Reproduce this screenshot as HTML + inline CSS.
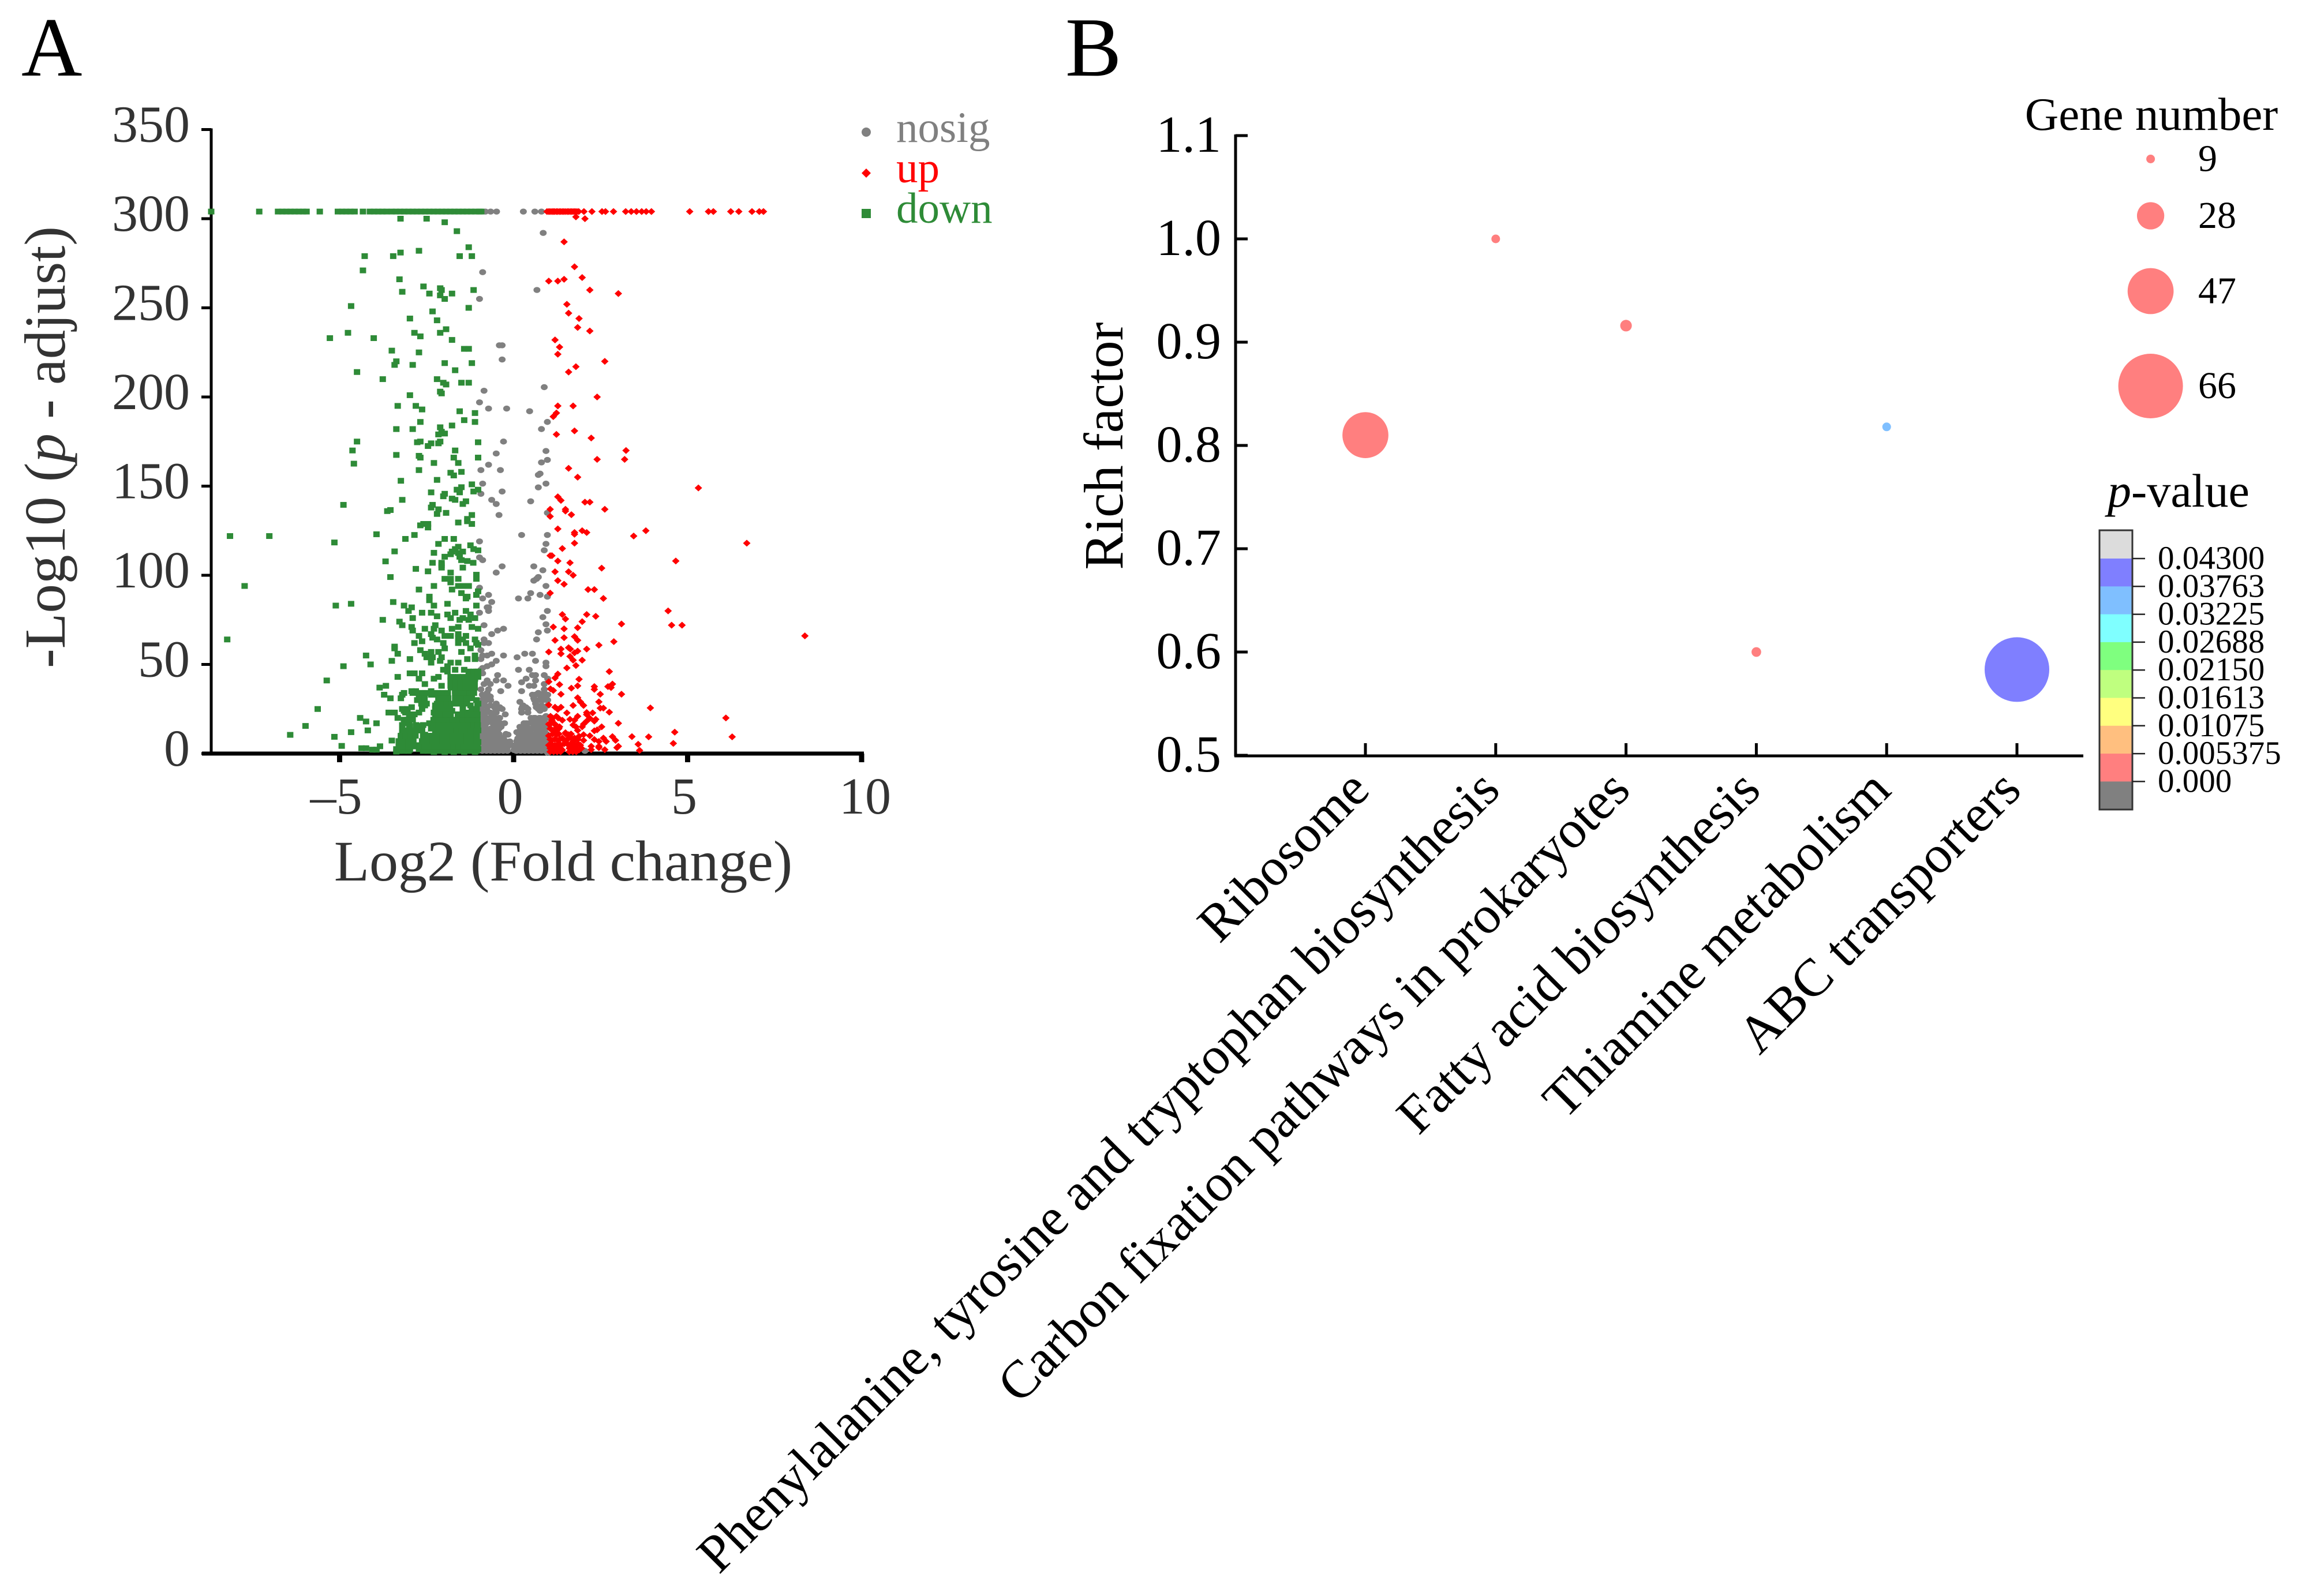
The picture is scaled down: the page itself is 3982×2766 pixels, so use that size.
<!DOCTYPE html>
<html lang="en">
<head>
<meta charset="utf-8">
<title>Volcano plot and KEGG enrichment bubble chart</title>
<style>
html,body{margin:0;padding:0;background:#fff;}
svg{display:block;font-family:"Liberation Serif",serif;}
</style>
</head>
<body>
<svg id="figure" xmlns="http://www.w3.org/2000/svg" width="3982" height="2766" viewBox="0 0 3982 2766">
<rect width="3982" height="2766" fill="#fff"/>
<text x="37" y="131" font-size="146" fill="#000">A</text>
<text x="1846" y="131" font-size="146" fill="#000">B</text>

<text transform="translate(112,775) rotate(-90)" text-anchor="middle" font-size="101" fill="#333">-Log10 (<tspan font-style="italic">p</tspan> - adjust)</text>
<text x="976" y="1526" text-anchor="middle" font-size="100" fill="#333">Log2 (Fold change)</text>

<text x="1553" y="246" font-size="75" fill="#808080">nosig</text>
<text x="1553" y="316" font-size="75" fill="#ff0000">up</text>
<text x="1553" y="386" font-size="75" fill="#2e8b37">down</text>
<ellipse cx="1501" cy="229" rx="8" ry="8" fill="#808080"/>
<polygon points="1501,292 1509,300 1501,308 1493,300" fill="#ff0000"/>
<rect x="1493" y="362" width="16" height="16" fill="#2e8b37"/>

<text transform="translate(1945,773) rotate(-90)" text-anchor="middle" font-size="96" fill="#000">Rich factor</text>

<text x="3728" y="225" text-anchor="middle" font-size="81" fill="#000">Gene number</text>
<text x="3775" y="878" text-anchor="middle" font-size="82" fill="#000"><tspan font-style="italic">p</tspan>-value</text>

<g id="volcano"></g>
<g id="bubble"></g>
<g id="sizeLegend"></g>
<g id="colorbar"></g>
</svg>

<script>
/* ---------- Panel A data: [log2 fold change, -log10 p-adjust] ---------- */
const volcanoXTicks = [-5, 0, 5, 10];
const volcanoXTickLabels = ["–5", "0", "5", "10"];
const volcanoYTicks = [0, 50, 100, 150, 200, 250, 300, 350];
const saturatedY = 304;

const downBandX = [-8.69,-7.31,-6.77,-6.65,-6.53,-6.41,-6.29,-6.17,-6.05,-5.95,-5.57,-5.05,-4.93,-4.81,-4.69,-4.57,-4.33,-4.13,-4.01,-3.89,-3.77,-3.65,-3.5,-3.38,-3.26,-3.14,-3.02,-2.9,-2.78,-2.66,-2.54,-2.42,-2.3,-2.18,-2.06,-1.94,-1.82,-1.7,-1.58,-1.46,-1.34,-1.22,-1.1,-0.98,-0.93];
const nosigBandX = [-0.81,-0.66,-0.49,0.28,0.61,0.8];
const upBandX = [0.96,1.01,1.05,1.1,1.14,1.18,1.23,1.27,1.32,1.36,1.41,1.45,1.5,1.55,1.59,1.64,1.68,1.73,1.77,1.82,1.87,2.02,2.25,2.54,2.64,2.87,3.22,3.38,3.53,3.68,3.81,3.96,5.06,5.6,5.74,6.24,6.47,6.85,7.06,7.18];

const downHigh = [[-3.25,300],[-2.5,300],[-1.98,298],[-1.63,293],[-1.29,284],[-2.72,282],[-3.25,281],[-3.46,279],[-4.28,279],[-1.55,279],[-1.2,279],[-4.33,271],[-3.28,266],[-2.59,262],[-2.11,261],[-2.07,260],[-3.2,259],[-2.42,258],[-2.11,257],[-1.98,255],[-1.77,258],[-1.15,260],[-4.67,251],[-1.29,250],[-2.33,248],[-2.98,244],[-2.2,243],[-1.94,238],[-2.11,236],[-2.85,236],[-4.76,236],[-2.68,234],[-5.28,233],[-4.02,233],[-1.77,232],[-1.42,227],[-1.29,227],[-3.5,226],[-2.72,225],[-3.37,220],[-3.42,218],[-2.9,218],[-1.98,219],[-1.2,219],[-1.68,215],[-4.5,214],[-3.76,210],[-2.2,210],[-2.02,208],[-1.94,207],[-1.5,208],[-1.29,208],[-2.11,203],[-2.07,202],[-2.98,201]];

const downMid = [[-3.33,195],[-2.81,195],[-2.63,193],[-1.55,192],[-1.11,191],[-1.42,187],[-1.11,186],[-2.68,186],[-2.11,183],[-1.77,184],[-3.37,182],[-2.9,182],[-2.07,180.5],[-1.98,179.5],[-2.16,179],[-4.5,175],[-2.68,175],[-2.77,174.6],[-2.11,175],[-2.16,174],[-2.37,174],[-2.46,172.5],[-1.02,174.6],[-4.63,170],[-1.68,170],[-3.37,167.5],[-2.72,167],[-2.68,166],[-1.72,166],[-1.02,166],[-1.59,163],[-2.29,163],[-4.59,162.6],[-2.72,159],[-1.81,157.5],[-1.72,156],[-1.5,158],[-3.24,153],[-2.2,153.5],[-1.2,151],[-1.5,149.4],[-1.63,148],[-1.55,146.5],[-1.15,147],[-1.02,148],[-2.37,146.5],[-1.98,145.7],[-2.02,144.3],[-1.77,143],[-1.68,142.3],[-3.2,142.3],[-1.37,141.5],[-1.46,140],[-2.33,139.5],[-2.37,138],[-2.16,137],[-4.89,139.5],[-3.54,136.6],[-3.63,136],[-1.94,135],[-2.2,134.4],[-1.2,133.8],[-1.33,131.6],[-1.33,130.3],[-1.59,129.6],[-1.2,128.8],[-2.46,128.8],[-2.59,128.8],[-2.68,128],[-2.46,126.8],[-3.94,123],[-2.85,122.6],[-3.11,120.4],[-5.15,118.4],[-1.98,120.4],[-1.72,120.4],[-2.16,117.6],[-1.24,116.8],[-1.59,116],[-1.68,114.7],[-1.77,113.3],[-1.46,113.3],[-1.59,112.5],[-1.15,114.7],[-1.02,114],[-2.29,112.6],[-3.42,113.4],[-1.81,111.8],[-1.98,110.4],[-1.55,110.4],[-1.5,108.5],[-1.33,108],[-3.68,107.8],[-1.16,107],[-2.33,107],[-2.07,107],[-2.07,105.7],[-2.07,104.3],[-1.46,104.3],[-2.81,103.6],[-2.46,102.2],[-1.81,101.5],[-1.07,100.3],[-3.54,99]];

const downLowUpper = [[-1.07,98],[-1.98,98],[-1.81,98],[-1.59,98],[-1.81,96],[-2.29,94],[-2.72,92],[-1.59,94],[-1.46,94],[-1.29,94],[-1.77,92],[-1.5,90],[-1.02,91],[-1.07,89],[-2.42,88],[-2.42,86],[-1.33,88],[-1.37,87],[-5.11,83],[-4.67,84],[-3.46,85],[-1.9,84],[-1.07,83],[-2.29,83],[-3.15,83],[-2.93,82],[-3.02,80],[-1.37,80],[-2.63,79],[-2.37,79],[-2.2,77],[-1.9,78],[-1.68,79],[-1.24,78],[-1.81,76],[-1.46,76],[-1.11,76],[-2.9,76],[-3.76,75],[-1.55,75],[-1.29,75],[-3.28,74],[-3.2,72],[-2.25,72],[-1.59,71],[-2.93,71],[-1.2,71],[-1.02,70],[-2.55,70],[-1.77,70],[-2.29,70],[-2.9,69],[-2.07,69],[-2.72,66],[-2.37,67],[-1.59,67],[-1.37,66],[-2.33,65],[-2.2,64],[-1.98,66],[-1.81,66],[-1.59,65],[-1.46,64],[-1.11,64],[-2.63,63],[-2.85,62],[-2.02,62],[-1.59,62],[-1.37,62],[-1.07,62],[-3.42,60],[-1.98,59],[-1.24,59],[-1.02,61],[-3.42,59],[-2.68,58],[-1.5,57],[-3.33,56],[-2.55,56],[-2.37,57],[-2.16,57],[-4.24,55],[-1.11,55],[-2.5,54],[-2.33,54],[-2.07,54],[-1.33,53],[-1.11,53],[-2.98,53],[-3.5,52],[-2.11,52],[-1.59,51],[-2.37,51],[-4.11,50],[-1.81,51],[-4.89,49],[-1.9,49],[-2.02,47],[-1.9,46],[-1.68,47],[-1.42,47],[-1.29,46],[-1.07,46],[-2.98,45],[-2.85,45],[-2.63,45],[-1.02,44],[-3.33,43],[-1.81,43],[-1.46,43],[-2.16,43],[-2.29,42],[-2.72,42],[-1.2,43],[-1.11,42],[-5.37,41],[-1.81,41],[-1.68,40],[-1.37,40],[-2.55,39],[-2.07,38],[-3.67,38],[-3.85,37],[-1.81,38],[-1.59,38],[-1.37,38]];

const downLowBase = [[-2.81,35],[-2.37,35],[-2.93,35],[-3.15,34],[-1.24,35],[-1.68,35],[-1.46,35],[-3.72,33],[-3.2,33],[-2.55,34],[-2.37,33],[-2.2,33],[-1.98,32],[-1.59,33],[-1.37,33],[-3.54,31],[-3.24,31],[-2.72,32],[-2.77,30],[-2.16,31],[-1.9,30],[-1.68,31],[-1.46,31],[-1.07,30],[-1.02,28],[-2.55,27],[-2.25,27],[-1.98,28],[-1.68,28],[-1.46,27],[-1.24,27],[-2.93,26],[-3.15,24],[-2.63,25],[-2.25,25],[-1.9,26],[-1.46,25],[-1.07,25],[-3.59,23],[-3.42,23],[-3.11,23],[-2.72,23],[-2.29,23],[-2.07,23],[-1.77,24],[-1.33,23],[-3.33,20],[-1.81,21],[-2.25,21],[-1.98,20],[-1.59,22],[-1.11,22],[-4.41,20],[-2.93,19],[-3.15,19],[-2.16,19],[-1.5,20],[-1.33,20],[-1.07,19],[-4.24,18],[-2.42,17],[-1.9,18],[-1.68,18],[-1.46,18],[-1.24,18],[-3.94,17],[-3.02,17],[-2.98,15.5],[-2.63,15.5],[-2.07,16],[-1.9,15.5],[-1.59,15],[-1.37,15],[-1.11,16],[-2.72,14],[-2.37,14],[-2.16,14],[-1.98,13],[-1.68,13],[-1.46,13],[-1.24,13],[-1.02,13],[-4.19,13],[-4.67,12],[-3.2,12],[-2.93,12],[-2.63,13],[-2.85,10.6],[-3.11,10],[-2.55,10.6],[-2.25,10.6],[-2.07,10.6],[-1.72,10.6],[-1.5,10.6],[-1.29,10.6],[-1.07,10.6],[-5.15,9.4],[-3.24,9],[-2.42,8.5],[-2.16,9],[-1.9,8.5],[-1.59,8.5],[-1.37,8.5],[-1.16,8.5],[-3.5,7.3],[-3.15,6.5],[-3.28,6.3],[-2.93,6.3],[-2.63,7],[-2.42,6],[-1.98,6.5],[-1.81,6.5],[-1.5,6.5],[-1.29,6.5],[-1.02,6.5],[-4.94,4.3],[-3.84,4.1],[-3.11,4.3],[-2.93,4.3],[-2.72,4.7],[-2.55,4.1],[-2.2,4.7],[-2.02,4.3],[-1.72,4.7],[-1.5,4.3],[-1.29,4.3],[-1.07,4.3],[-4.37,3],[-4.24,3],[-4.06,2.2],[-3.94,2.2],[-3.37,2.5],[-3.15,2.2],[-2.98,2.2],[-2.72,2.5],[-2.5,2.2],[-2.16,2.5],[-1.9,2.5],[-1.68,2.5],[-1.46,2.5],[-1.24,2.5],[-1.02,2.5],[-2.29,0.9],[-1.98,0.9],[-1.72,0.9],[-1.42,0.9],[-1.11,0.9],[-3.37,1.1],[-6.42,10.5],[-5.98,15.5],[-5.63,25],[-8.15,122],[-7.02,122],[-7.73,94],[-8.23,64]];

const downDenseBottom = [[-3.3,1.5],[-3.16,1.5],[-3.02,1.5],[-2.6,1.5],[-2.46,1.5],[-2.32,1.5],[-2.18,1.5],[-2.04,1.5],[-1.9,1.5],[-1.76,1.5],[-1.62,1.5],[-1.48,1.5],[-1.34,1.5],[-1.2,1.5],[-1.06,1.5],[-3.3,4],[-3.16,4],[-3.02,4],[-2.88,4],[-2.7,4],[-2.56,4],[-2.42,4],[-2.28,4],[-2.14,4],[-2,4],[-1.86,4],[-1.72,4],[-1.58,4],[-1.44,4],[-1.3,4],[-1.16,4],[-1.04,4],[-3.3,7],[-3.16,7],[-3.02,7],[-2.88,7],[-2.6,7],[-2.46,7],[-2.32,7],[-2.18,7],[-2.04,7],[-1.9,7],[-1.76,7],[-1.62,7],[-1.48,7],[-1.34,7],[-1.2,7],[-1.06,7],[-3.24,10],[-3.1,10],[-2.96,10],[-2.82,10],[-2.6,10],[-2.46,10],[-2.32,10],[-2.18,10],[-2.04,10],[-1.9,10],[-1.76,10],[-1.62,10],[-1.48,10],[-1.34,10],[-1.2,10],[-1.06,10],[-3.2,13],[-3.06,13],[-2.92,13],[-2.78,13],[-2.64,13],[-2.25,13],[-2.11,13],[-1.97,13],[-1.83,13],[-1.65,13],[-1.5,13],[-1.36,13],[-1.22,13],[-1.06,13],[-3.2,16],[-3.0,16],[-2.8,16],[-2.6,16],[-2.3,16],[-2.16,16],[-2.02,16],[-1.88,16],[-1.7,16],[-1.56,16],[-1.42,16],[-1.28,16],[-1.14,16],[-1.03,16],[-3.05,19],[-2.9,19],[-2.3,19],[-2.16,19],[-2.02,19],[-1.88,19],[-1.75,19],[-1.6,19],[-1.46,19],[-1.32,19],[-1.18,19],[-1.04,19]];

const downDenseUpper = [[-3.0,22],[-2.85,22],[-2.25,22],[-2.1,22],[-1.96,22],[-1.82,22],[-1.6,22],[-1.46,22],[-1.32,22],[-1.18,22],[-1.04,22],[-3.2,25],[-3.05,25],[-2.25,25],[-2.11,25],[-1.97,25],[-1.83,25],[-1.2,25],[-1.06,25],[-2.65,28],[-2.5,28],[-2.2,28],[-2.06,28],[-1.92,28],[-1.78,28],[-1.62,28],[-1.48,28],[-1.34,28],[-1.04,28],[-2.7,31],[-2.56,31],[-2.16,31],[-2.02,31],[-1.88,31],[-1.62,31],[-1.48,31],[-1.34,31],[-1.2,31],[-2.9,34],[-2.76,34],[-2.62,34],[-2.45,34],[-2.31,34],[-2.17,34],[-2.03,34],[-1.89,34],[-1.68,34],[-1.54,34],[-1.4,34],[-1.26,34],[-1.14,34],[-1.8,37],[-1.66,37],[-1.52,37],[-1.38,37],[-1.24,37],[-1.12,37],[-1.8,40],[-1.66,40],[-1.52,40],[-1.38,40],[-1.24,40],[-1.12,40],[-1.75,43],[-1.6,43],[-1.3,43],[-1.16,43],[-1.02,43],[-1.15,46],[-1.02,46]];

const nosigHigh = [[0.85,292],[-0.89,270],[0.67,260],[-0.98,255],[-0.41,229],[-0.33,229],[-0.33,221],[0.88,205.5],[-0.85,203.5],[-0.98,197],[-0.72,193.5],[-0.2,193.5],[0.46,192],[0.97,186],[0.8,182],[-0.29,175],[0.93,169.7],[-0.5,168.3],[0.97,164.7],[0.8,163.3],[-0.72,162],[-0.94,159],[-0.38,159],[0.76,157],[0.71,156.3],[-0.89,151.4],[0.93,151.4],[0.71,149.3],[-0.33,147],[-0.94,145.7],[-0.63,142.3],[-0.5,140],[0.49,141.5],[0.97,135],[-0.42,133.8],[0.23,122.6],[0.97,122.6],[-0.98,119],[0.93,117.6],[0.88,114],[-0.98,110],[-0.89,108.5],[-0.33,105],[0.58,105],[0.84,102.8],[-0.5,101.5],[0.71,99]];

const nosigLow = [[0.66,98],[0.58,97],[-0.98,93],[0.93,94],[-0.72,89],[-0.89,87],[-0.63,85],[0.49,90],[0.14,87],[0.41,87],[0.76,89],[0.97,88],[-0.72,82],[-0.76,82],[-0.72,80],[-0.98,79],[0.97,80],[0.84,76.5],[0.93,72.5],[-0.85,72],[-0.29,70],[-0.46,69],[0.71,68],[0.97,69],[-0.63,67],[0.66,64],[-0.85,64],[-0.85,62],[-0.72,62],[-0.94,58],[-0.63,56],[-0.29,55],[-0.76,55],[-0.89,55],[-0.94,53],[-0.5,52],[-0.63,50],[-0.76,49],[-0.89,48],[-0.94,47],[-0.89,45],[0.1,54],[0.32,56],[0.54,56],[0.63,52],[0.93,51],[0.93,49],[0.14,47],[0.45,47],[0.54,44],[0.63,44],[0.36,42],[0.63,41],[0.88,44],[0.98,42],[-0.46,44],[-0.29,41],[-0.5,41],[-0.76,41],[-0.85,39],[-0.67,39],[-0.16,38],[-0.37,35],[0.23,40],[0.45,38],[0.58,38],[0.23,35],[0.88,39],[0.88,36],[-0.94,36],[-0.72,36],[-0.76,34],[0.54,33],[0.71,34],[0.88,34],[0.98,33],[-0.85,32],[-0.67,32],[0.58,31],[0.8,31],[0.98,30],[-0.5,28],[-0.85,28],[-0.67,27],[0.18,29],[0.27,27],[0.63,28],[0.8,27],[0.98,27],[-0.46,25],[-0.33,25],[-0.94,25],[-0.76,24],[0.23,25],[0.41,25],[0.71,25],[0.88,25],[-0.24,22],[-0.5,23],[-0.67,23],[0.23,23],[0.41,23],[0.76,24],[-0.85,21],[-0.62,21],[-0.41,20],[0.58,20],[0.76,20],[0.93,21],[-0.89,18],[-0.67,19],[-0.46,18],[0.36,17],[0.54,18],[0.71,18],[0.88,18],[-0.26,17],[-0.85,15],[-0.56,16],[-0.36,15],[0.18,15],[0.36,15],[0.58,15],[0.8,16],[0.93,16],[-0.89,13],[-0.67,13],[-0.46,13],[0.09,12],[0.27,12],[0.45,12],[0.66,13],[0.84,12],[-0.16,10.6],[-0.89,10],[-0.67,10.6],[-0.46,10],[-0.29,9],[0.18,9],[0.36,9],[0.54,9],[0.71,9],[0.88,9],[-0.85,7],[-0.67,7],[-0.46,7],[-0.24,7],[-0.11,6.8],[0.09,7],[0.27,7],[0.45,7],[0.63,7],[0.84,7],[-0.89,4.5],[-0.72,4.5],[-0.55,4.5],[-0.37,4.5],[-0.2,4.5],[-0.02,4.5],[0.14,4.5],[0.32,4.5],[0.49,4.5],[0.67,4.5],[0.84,4.5],[-0.89,2],[-0.72,2],[-0.55,2],[-0.37,2],[-0.2,2],[0.01,2],[0.14,2],[0.32,2],[0.49,2],[0.67,2],[0.84,2],[2.05,1.5],[0.98,0.4]];

const nosigDense = [[-0.9,1.5],[-0.78,1.5],[-0.66,1.5],[-0.54,1.5],[-0.42,1.5],[-0.3,1.5],[-0.18,1.5],[0.08,1.5],[0.2,1.5],[0.32,1.5],[0.44,1.5],[0.56,1.5],[0.68,1.5],[0.8,1.5],[0.92,1.5],[-0.9,3.5],[-0.78,3.5],[-0.66,3.5],[-0.54,3.5],[-0.42,3.5],[-0.3,3.5],[-0.18,3.5],[0.08,3.5],[0.2,3.5],[0.32,3.5],[0.44,3.5],[0.56,3.5],[0.68,3.5],[0.8,3.5],[0.92,3.5],[-0.9,6],[-0.78,6],[-0.66,6],[-0.54,6],[-0.42,6],[-0.3,6],[-0.18,6],[0.12,6],[0.24,6],[0.36,6],[0.48,6],[0.6,6],[0.72,6],[0.84,6],[0.94,6],[-0.9,8.5],[-0.78,8.5],[-0.66,8.5],[-0.54,8.5],[-0.42,8.5],[-0.3,8.5],[0.12,8.5],[0.24,8.5],[0.36,8.5],[0.48,8.5],[0.6,8.5],[0.72,8.5],[0.84,8.5],[0.94,8.5],[-0.9,11],[-0.78,11],[-0.66,11],[-0.54,11],[-0.42,11],[-0.22,11],[0.15,11],[0.27,11],[0.39,11],[0.51,11],[0.63,11],[0.75,11],[0.87,11],[0.95,11],[-0.9,14],[-0.78,14],[-0.66,14],[-0.54,14],[-0.42,14],[0.2,14],[0.32,14],[0.44,14],[0.56,14],[0.68,14],[0.8,14],[0.92,14],[-0.9,17],[-0.78,17],[-0.6,17],[-0.5,17],[-0.38,17],[0.3,17],[0.42,17],[0.54,17],[0.66,17],[0.78,17],[0.9,17],[-0.9,20],[-0.78,20],[-0.66,20],[-0.54,20],[-0.4,20],[0.5,20],[0.62,20],[0.74,20],[0.86,20],[0.96,20],[-0.92,23],[-0.8,23],[-0.68,23],[-0.56,23],[-0.92,26],[-0.76,26],[-0.55,26],[-0.4,26],[0.25,26],[0.35,26],[0.65,26],[0.85,26],[-0.92,30],[-0.78,30],[-0.66,30],[0.6,30],[0.72,30],[0.85,30],[0.96,30],[-0.9,33],[-0.78,33],[0.62,33],[0.75,33],[0.9,33]];

const upHigh = [[1.79,301],[2.05,300],[1.45,287],[1.75,273],[1.97,267],[1.01,265],[1.27,265],[1.45,266],[2.19,260],[3.01,258],[1.53,252],[1.58,247],[1.88,244],[1.84,239],[2.19,237],[1.19,232],[1.32,228],[1.27,224],[2.62,220],[1.79,217],[1.58,214],[2.4,200],[1.27,195],[1.71,195],[1.23,191],[1.14,189],[1.75,181],[1.23,179],[2.23,177],[3.23,170],[2.4,165],[3.19,165],[1.58,160],[1.84,155],[1.27,144],[1.36,142],[2.05,141],[2.19,141],[1.05,137],[1.49,137],[2.62,137],[1.49,136],[1.66,134],[1.05,133],[1.27,126],[1.97,125],[2.1,124],[1.75,124],[1.75,123],[3.8,125],[3.45,122],[1.75,118],[1.4,115],[1.05,111],[1.1,111],[1.27,108],[1.62,107],[2.53,104],[1.19,102],[1.58,102],[1.71,100],[5.31,149],[6.7,118],[4.66,108]];

const upLow = [[1.27,97],[1.45,95],[2.14,92],[2.32,92],[1.05,90],[2.58,87],[1.4,78],[1.49,75.5],[2.1,78],[2.36,77],[1.97,74],[3.1,72.7],[1.14,71],[1.45,70],[1.84,70.6],[1.75,65.6],[1.84,63.5],[1.19,63.5],[1.45,65],[2.88,62.8],[2.45,60.8],[1.36,58.6],[1.58,59.4],[1.63,58.6],[2.1,58.6],[1.01,57],[1.36,56],[1.84,57.5],[1.75,56.5],[1.62,54.5],[1.71,52.4],[1.97,52.4],[1.79,49.4],[1.53,48],[2.75,46],[1.27,44.6],[1.19,42.4],[1.01,40.3],[1.88,41.7],[1.32,38.7],[1.84,38],[1.06,36.3],[1.14,35.4],[1.66,36.7],[2.32,37.6],[2.32,36],[2.84,39],[2.8,37],[2.71,37.6],[1.36,33.3],[2.49,33.3],[3.1,33.3],[1.84,31.3],[1.92,29],[2.45,29],[2.01,27],[1.01,27.3],[1.19,26],[1.36,26],[1.27,24.8],[1.71,27],[2.49,25.5],[2.58,25.5],[2.75,23.2],[1.53,22.8],[2.1,23],[2.27,22.8],[1.06,20.9],[1.23,20.9],[1.84,20.9],[2.1,21.9],[1.4,18.7],[1.62,19.2],[1.75,18.7],[2.19,19.8],[2.36,19.2],[1.1,18.7],[2.1,18.2],[2.01,16.5],[2.32,18.2],[3.01,17],[1.01,16.5],[1.19,16.5],[1.32,15],[1.71,16],[1.79,15],[1.97,15],[2.53,15],[1.1,13.3],[1.84,13],[2.4,13.3],[2.32,12.8],[1.19,12.2],[1.49,11.7],[1.01,10],[1.23,10.6],[1.58,10.6],[1.88,9.7],[2.01,10.6],[2.19,10],[1.4,8.7],[1.66,8.7],[1.75,8.7],[2.32,7.9],[2.58,8.7],[2.84,9.5],[3.4,9.5],[1.1,7.4],[1.27,7.4],[1.49,6.8],[1.71,6.8],[2.01,7.4],[2.45,6.8],[2.66,6.8],[2.93,7.4],[1.01,4.7],[1.19,4.7],[1.36,4.7],[1.58,4.7],[1.75,4.7],[1.92,4.7],[2.23,4.1],[2.45,4.1],[3.01,4.1],[3.58,5.2],[1.1,2],[1.27,2],[1.4,2],[1.66,2],[1.88,2],[2.23,2.2],[2.62,2.2],[2.45,3.3],[2.97,3.3],[3.62,1.8],[4.44,80],[4.54,72],[4.84,72],[8.37,66],[6.1,20],[4.63,12],[6.28,9.4],[4.59,5.7],[3.88,9.4],[3.93,25.6]];

const upDense = [[1.05,1],[1.15,1],[1.25,1],[1.35,1],[1.6,1],[1.7,1],[1.8,1],[1.05,3],[1.15,3],[1.25,3],[1.35,3],[1.6,3],[1.7,3],[1.8,3],[1.95,3],[1.08,5.5],[1.28,5.5],[1.45,5.5],[1.65,5.5],[1.85,5.5],[1.05,8],[1.18,8],[1.33,8],[1.55,8],[1.7,8],[1.85,8],[1.12,11],[1.3,11],[1.5,11],[1.65,11],[1.05,14],[1.2,14],[1.3,14],[1.08,17],[1.15,17],[1.12,20],[1.28,20]];

/* ---------- Panel B data ---------- */
const pathways = ["Ribosome","Phenylalanine, tyrosine and tryptophan biosynthesis","Carbon fixation pathways in prokaryotes","Fatty acid biosynthesis","Thiamine metabolism","ABC transporters"];
const richFactor = [0.81,1.0,0.916,0.6,0.818,0.583];
const geneNumber = [47,9,12,10,9,66];
const bubbleColor = ["#ff7f7f","#ff7f7f","#ff7f7f","#ff7f7f","#7fbfff","#7f7fff"];
const bubbleYTicks = [0.5,0.6,0.7,0.8,0.9,1.0,1.1];
const bubbleYLabels = ["0.5","0.6","0.7","0.8","0.9","1.0","1.1"];
const sizeLegendValues = [9,28,47,66];
const colorbarLabels = ["0.04300","0.03763","0.03225","0.02688","0.02150","0.01613","0.01075","0.005375","0.000"];
const colorbarColors = ["#dcdcdc","#7f7fff","#7fbfff","#7fffff","#7fff7f","#bfff7f","#ffff7f","#ffbf7f","#ff7f7f","#808080"];

/* ---------- helpers ---------- */
const NS = "http://www.w3.org/2000/svg";
function make(parent, tag, attrs, text){
  const el = document.createElementNS(NS, tag);
  for (const k in attrs) el.setAttribute(k, attrs[k]);
  if (text !== undefined) el.textContent = text;
  parent.appendChild(el);
  return el;
}
const xA = v => 890 + 60.3 * v;
const yA = v => 1306 - 3.09 * v;
const xB = i => 2366 + 225.8 * i;
const yB = v => 1309 - 1790 * (v - 0.5);
const rGene = n => 7.5 + (n - 9) * 0.851;

/* ---------- Panel A axes ---------- */
const volcano = document.getElementById("volcano");
const yAxisA = make(volcano, "line", {x1:366,x2:366,y1:yA(350)-2,y2:yA(0),stroke:"#000","stroke-width":5});


const xAxisA = make(volcano, "line", {x1:350,x2:xA(10)+4,y1:yA(0),y2:yA(0),stroke:"#000","stroke-width":7});


volcanoYTicks.forEach(v => {
  const t = make(volcano, "line", {x1:349,x2:366,y1:yA(v),y2:yA(v),stroke:"#000","stroke-width":5});
  
  
  const l = make(volcano, "text", {x:329,y:yA(v)+21,"text-anchor":"end","font-size":90,fill:"#333"}, String(v));
  
  
});
volcanoXTicks.forEach((v,i) => {
  const t = make(volcano, "line", {x1:xA(v),x2:xA(v),y1:yA(0),y2:1321,stroke:"#000","stroke-width":9});
  
  
  const l = make(volcano, "text", {x:xA(v)+(v===10?6:-6),y:1410,"text-anchor":"middle","font-size":90,fill:"#333"}, volcanoXTickLabels[i]);
  
  
});

/* ---------- Panel A points ---------- */
function drawNosig(x, y){
  const p = make(volcano, "ellipse", {cx:xA(x),cy:yA(y),rx:6,ry:5.2,fill:"#808080"});
  
  
}
function drawDown(x, y){
  const p = make(volcano, "rect", {x:xA(x)-5.5,y:yA(y)-5,width:11,height:10,fill:"#2e8b37"});
  
  
}
function drawUp(x, y){
  const cx = xA(x), cy = yA(y);
  const p = make(volcano, "polygon", {points:`${cx},${cy-6} ${cx+6.5},${cy} ${cx},${cy+6} ${cx-6.5},${cy}`,fill:"#ff0000"});
  
  
}
nosigBandX.forEach(x => drawNosig(x, saturatedY));
nosigHigh.forEach(p => drawNosig(p[0], p[1]));
nosigLow.forEach(p => drawNosig(p[0], p[1]));
nosigDense.forEach(p => drawNosig(p[0], p[1]));
downBandX.forEach(x => drawDown(x, saturatedY));
downHigh.forEach(p => drawDown(p[0], p[1]));
downMid.forEach(p => drawDown(p[0], p[1]));
downLowUpper.forEach(p => drawDown(p[0], p[1]));
downLowBase.forEach(p => drawDown(p[0], p[1]));
downDenseBottom.forEach(p => drawDown(p[0], p[1]));
downDenseUpper.forEach(p => drawDown(p[0], p[1]));
upBandX.forEach(x => drawUp(x, saturatedY));
upHigh.forEach(p => drawUp(p[0], p[1]));
upLow.forEach(p => drawUp(p[0], p[1]));
upDense.forEach(p => drawUp(p[0], p[1]));

/* ---------- Panel B ---------- */
const bubble = document.getElementById("bubble");
const yAxisB = make(bubble, "line", {x1:2141,x2:2141,y1:yB(1.1)-2,y2:1311,stroke:"#000","stroke-width":5});


const xAxisB = make(bubble, "line", {x1:2139,x2:3610,y1:1310,y2:1310,stroke:"#000","stroke-width":5});


bubbleYTicks.forEach((v,i) => {
  const t = make(bubble, "line", {x1:2141,x2:2162,y1:yB(v),y2:yB(v),stroke:"#000","stroke-width":5});
  
  
  const l = make(bubble, "text", {x:2116,y:yB(v)+28,"text-anchor":"end","font-size":90,fill:"#000"}, bubbleYLabels[i]);
  
  
});
pathways.forEach((name,i) => {
  const t = make(bubble, "line", {x1:xB(i),x2:xB(i),y1:1288,y2:1310,stroke:"#000","stroke-width":5});
  
  
  const ax = xB(i) + 11, ay = 1373;
  const l = make(bubble, "text", {transform:`translate(${ax},${ay}) rotate(-45)`,"text-anchor":"end","font-size":92,fill:"#000"}, name);
  
  
  const c = make(bubble, "circle", {cx:xB(i),cy:yB(richFactor[i]),r:rGene(geneNumber[i]),fill:bubbleColor[i]});
  
  
});

/* ---------- Gene number legend ---------- */
const sizeLegend = document.getElementById("sizeLegend");
const sizeLegendCenters = [275.5,374,504.5,669];
sizeLegendValues.forEach((n,i) => {
  const c = make(sizeLegend, "circle", {cx:3726.6,cy:sizeLegendCenters[i],r:rGene(n),fill:"#ff7f7f"});
  
  
  const l = make(sizeLegend, "text", {x:3809,y:sizeLegendCenters[i]+21,"font-size":66,fill:"#000"}, String(n));
  
  
});

/* ---------- Colour bar ---------- */
const colorbar = document.getElementById("colorbar");
const cbTop = 919, cbFirstTick = 968, cbStep = 48.3;
colorbarColors.forEach((col,i) => {
  const y0 = i === 0 ? cbTop : cbFirstTick + (i-1)*cbStep;
  const y1 = cbFirstTick + i*cbStep;
  const s = make(colorbar, "rect", {x:3638,y:y0,width:57,height:y1-y0+0.5,fill:col});
  
  
});
const cbFrame = make(colorbar, "rect", {x:3638,y:cbTop,width:57,height:484,fill:"none",stroke:"#333","stroke-width":3});


colorbarLabels.forEach((t,i) => {
  const y = cbFirstTick + i*cbStep;
  const k = make(colorbar, "line", {x1:3695,x2:3717,y1:y,y2:y,stroke:"#222","stroke-width":2.5});
  
  
  const l = make(colorbar, "text", {x:3739,y:y+18,"font-size":57,fill:"#000"}, t);
  
  
});
</script>
</body>
</html>
